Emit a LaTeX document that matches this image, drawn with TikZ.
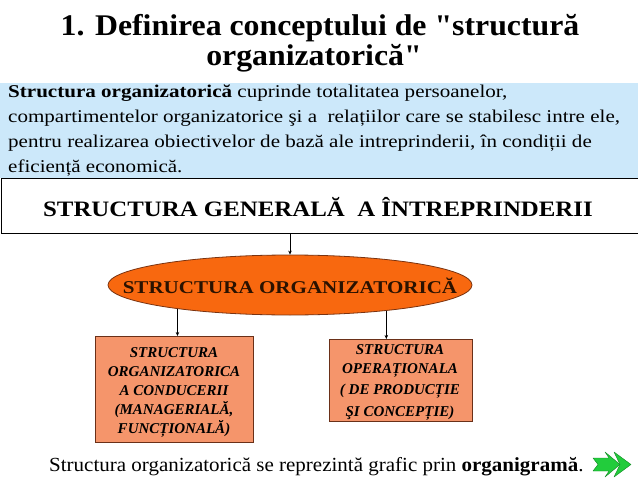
\documentclass[tikz,border=0pt]{standalone}
\usepackage{fontspec}
\setmainfont{Liberation Serif}
\newfontfamily\titlef[FakeStretch=1.06]{Liberation Serif}
\newfontfamily\deff[FakeStretch=1.17]{Liberation Serif}
\newfontfamily\genf[FakeStretch=1.13]{Liberation Serif}
\newfontfamily\ellf[FakeStretch=1.17]{Liberation Serif}
\newfontfamily\botf[FakeStretch=1.05]{Liberation Serif}
\usetikzlibrary{arrows.meta,shapes.geometric}
\definecolor{bluebg}{HTML}{CCE8FA}
\definecolor{ellfill}{HTML}{F8680F}
\definecolor{elldraw}{HTML}{7A3310}
\definecolor{boxfill}{HTML}{F5956B}
\definecolor{boxdraw}{HTML}{6A3018}
\definecolor{elltext}{HTML}{2A1200}
\definecolor{arrgreen}{HTML}{22CC3C}
\definecolor{arrdark}{HTML}{0F8A22}
\begin{document}
\begin{tikzpicture}[x=1pt,y=-1pt,
  conn/.style={-{Stealth[length=4pt,width=3.5pt]},line width=0.6pt},
  txt/.style={inner sep=0pt,anchor=base},
  orgbox/.style={draw=boxdraw,fill=boxfill,line width=0.8pt,inner sep=0pt,anchor=north west},
  boxtext/.style={txt,font=\fontsize{15}{19}\selectfont\bfseries\itshape},
]
\useasboundingbox (0,0) rectangle (638,479);
\fill[white] (0,0) rectangle (638,479);
% title
\node[txt,font=\titlef\fontsize{30}{30}\selectfont\bfseries] (title1) at (320,35) {1. Definirea conceptului de "structură};
\node[txt,font=\titlef\fontsize{30}{30}\selectfont\bfseries] (title2) at (314,65) {organizatorică"};
% definition
\node[fill=bluebg,inner sep=0pt,minimum width=638pt,minimum height=95pt,anchor=north west] (defbox) at (0,83) {};
\node[inner sep=0pt,anchor=base west] (deftext) at (8,97) {\parbox[t]{636pt}{\deff\fontsize{18}{25.3}\selectfont\raggedright
\textbf{Structura organizatorică} cuprinde totalitatea persoanelor,\\
compartimentelor organizatorice şi a\ \ relațiilor care se stabilesc intre ele,\\
pentru realizarea obiectivelor de bază ale intreprinderii, în condiții de\\
eficiență economică.}};
% general structure box
\node[draw,line width=0.8pt,inner sep=0pt,minimum width=650pt,minimum height=55pt,anchor=north west] (genbox) at (0.5,178) {};
\node[txt,font=\genf\fontsize{22}{22}\selectfont\bfseries] (gentext) at (318,216) {STRUCTURA GENERALĂ\ \ A ÎNTREPRINDERII};
% ellipse
\node[ellipse,draw=elldraw,fill=ellfill,line width=0.8pt,inner sep=0pt,minimum width=364pt,minimum height=60pt] (ell) at (290,285) {};
\node[txt,font=\ellf\fontsize{18}{18}\selectfont\bfseries,text=elltext] (elltxt) at (290,293) {STRUCTURA ORGANIZATORICĂ};
% boxes
\node[orgbox,minimum width=158pt,minimum height=106pt] (lbox) at (95,336) {};
\node[boxtext] (ltext) at (174,357) {\parbox[t]{156pt}{\centering\fontsize{15}{19}\selectfont\bfseries\itshape
STRUCTURA\\ORGANIZATORICA\\A CONDUCERII\\(MANAGERIALĂ,\\FUNCȚIONALĂ)}};
\node[orgbox,minimum width=143pt,minimum height=82pt] (rbox) at (329,339) {};
\node[boxtext] (rtext) at (400,354) {\parbox[t]{141pt}{\centering\fontsize{15}{19}\selectfont\bfseries\itshape
STRUCTURA\\OPERAȚIONALA\\[2pt]( DE PRODUCȚIE\\[3pt]ŞI CONCEPȚIE)}};
% connectors
\draw[conn] (genbox.south -| ell.north) -- (ell.north);
\draw[conn] (ell.192) -- (ell.192 |- lbox.north);
\draw[conn] (ell.345) -- (ell.345 |- rbox.north);
% bottom text
\node[txt,anchor=base west,font=\botf\fontsize{20}{20}\selectfont] (bottom) at (49,471) {Structura organizatorică se reprezintă grafic prin \textbf{organigramă}.};
% green arrow icon
\fill[arrgreen,draw=arrdark,line width=0.4pt,line join=round]
  (593,458) -- (609,458) -- (605,452) -- (620,464.5) -- (605,477) -- (609,471) -- (593,471) -- (598,464.5) -- cycle;
\fill[arrgreen,draw=arrdark,line width=0.4pt,line join=round]
  (614,452) -- (631,464.5) -- (614,477) -- (620,464.5) -- cycle;
\end{tikzpicture}
\end{document}
